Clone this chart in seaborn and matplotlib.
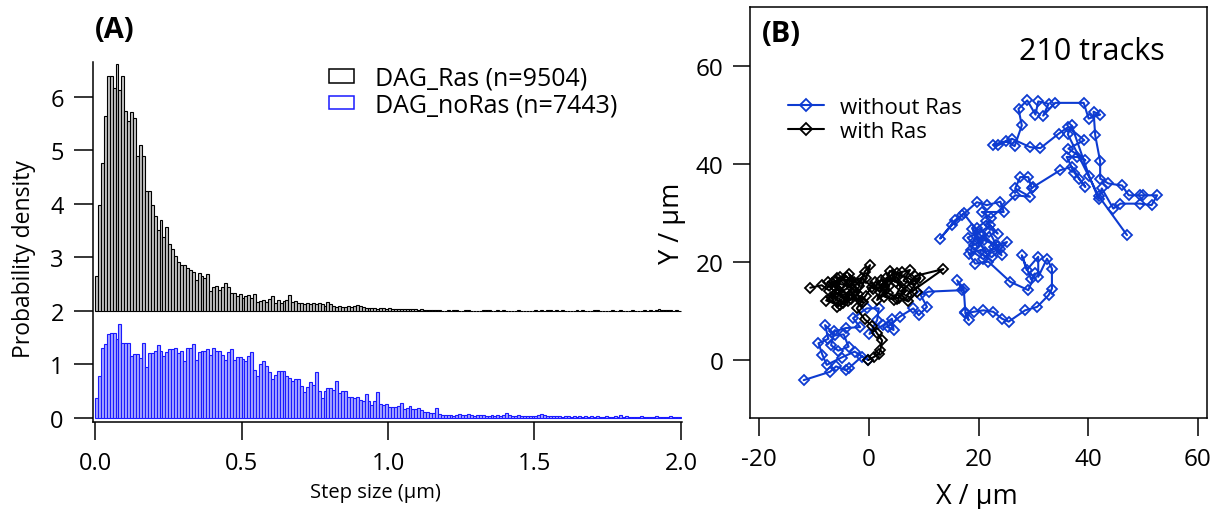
import numpy as np
import matplotlib
matplotlib.use("Agg")
import matplotlib.pyplot as plt
from matplotlib.patches import Patch
from matplotlib.lines import Line2D
import seaborn as sns

# ---------------- data ----------------
# Histogram bin densities (bin width 0.01 um, 0 .. 2.0 um)
ras_density = [
    0.65, 1.97, 2.76, 3.65, 4.39, 4.39, 4.16, 4.62, 4.12, 4.38,
    3.73, 3.55, 3.71, 3.60, 2.90, 3.10, 2.90, 2.24, 2.24, 1.98,
    1.78, 1.51, 1.69, 1.39, 1.57, 1.25, 1.15, 1.03, 0.92, 0.85,
    0.86, 0.80, 0.77, 0.72, 0.58, 0.70, 0.66, 0.61, 0.69, 0.38,
    0.44, 0.47, 0.39, 0.44, 0.52, 0.45, 0.33, 0.34, 0.28, 0.32,
    0.24, 0.27, 0.30, 0.25, 0.31, 0.16, 0.19, 0.21, 0.17, 0.23,
    0.28, 0.14, 0.20, 0.15, 0.18, 0.20, 0.29, 0.17, 0.18, 0.15,
    0.14, 0.13, 0.14, 0.12, 0.15, 0.13, 0.14, 0.12, 0.10, 0.16,
    0.13, 0.10, 0.08, 0.09, 0.08, 0.07, 0.09, 0.08, 0.10, 0.11,
    0.09, 0.07, 0.06, 0.05, 0.06, 0.05, 0.04, 0.06, 0.05, 0.04,
    0.05, 0.04, 0.04, 0.03, 0.04, 0.03, 0.03, 0.04, 0.03, 0.03,
    0.02, 0.03, 0.02, 0.02, 0.01, 0.02, 0.01, 0.01, 0.00, 0.00,
    0.02, 0.00, 0.02, 0.01, 0.00, 0.00, 0.02, 0.01, 0.00, 0.00,
    0.00, 0.00, 0.02, 0.01, 0.02, 0.00, 0.00, 0.02, 0.00, 0.02,
    0.00, 0.00, 0.00, 0.00, 0.02, 0.00, 0.00, 0.00, 0.00, 0.00,
    0.02, 0.00, 0.02, 0.00, 0.01, 0.02, 0.00, 0.02, 0.00, 0.02,
    0.00, 0.00, 0.00, 0.00, 0.02, 0.00, 0.02, 0.00, 0.00, 0.00,
    0.02, 0.02, 0.00, 0.00, 0.00, 0.00, 0.02, 0.00, 0.00, 0.02,
    0.00, 0.00, 0.00, 0.02, 0.00, 0.00, 0.00, 0.02, 0.00, 0.02,
    0.00, 0.02, 0.03, 0.02, 0.02, 0.02, 0.02, 0.00, 0.02, 0.00,
]
noras_density = [
    0.37, 0.79, 1.30, 1.38, 1.57, 1.58, 1.58, 1.48, 1.76, 1.40,
    1.40, 1.41, 1.15, 1.20, 1.20, 1.12, 1.40, 0.95, 1.21, 1.22,
    1.25, 1.36, 1.26, 1.15, 1.23, 1.28, 1.29, 1.31, 1.21, 1.26,
    1.06, 1.31, 1.31, 1.38, 1.09, 1.23, 1.26, 1.26, 1.28, 1.17,
    1.30, 1.26, 1.25, 1.18, 1.09, 1.23, 1.28, 1.08, 1.14, 1.14,
    1.10, 1.07, 1.15, 1.23, 0.90, 0.79, 1.01, 1.06, 0.97, 0.85,
    0.73, 0.81, 0.87, 0.88, 0.88, 0.79, 0.75, 0.70, 0.72, 0.73,
    0.60, 0.48, 0.58, 0.67, 0.62, 0.85, 0.50, 0.37, 0.50, 0.56,
    0.56, 0.53, 0.70, 0.47, 0.51, 0.50, 0.39, 0.40, 0.37, 0.39,
    0.34, 0.32, 0.44, 0.31, 0.25, 0.31, 0.48, 0.26, 0.25, 0.26,
    0.20, 0.20, 0.21, 0.23, 0.28, 0.17, 0.19, 0.22, 0.17, 0.16,
    0.18, 0.15, 0.11, 0.12, 0.10, 0.09, 0.19, 0.08, 0.06, 0.06,
    0.05, 0.06, 0.04, 0.05, 0.07, 0.06, 0.05, 0.08, 0.05, 0.04,
    0.05, 0.06, 0.05, 0.04, 0.04, 0.05, 0.04, 0.05, 0.04, 0.05,
    0.10, 0.05, 0.04, 0.03, 0.05, 0.04, 0.03, 0.04, 0.03, 0.04,
    0.03, 0.05, 0.08, 0.06, 0.03, 0.04, 0.03, 0.03, 0.04, 0.02,
    0.03, 0.03, 0.02, 0.03, 0.02, 0.03, 0.02, 0.03, 0.02, 0.03,
    0.02, 0.03, 0.02, 0.02, 0.03, 0.02, 0.01, 0.03, 0.02, 0.06,
    0.02, 0.03, 0.02, 0.01, 0.02, 0.02, 0.03, 0.01, 0.02, 0.02,
    0.01, 0.03, 0.02, 0.02, 0.01, 0.02, 0.03, 0.02, 0.01, 0.02,
]
ras_label = "DAG_Ras (n=9504)"
noras_label = "DAG_noRas (n=7443)"
hist_x_ticks = [0.0, 0.5, 1.0, 1.5, 2.0]
hist_y_ticks = [0, 1, 2, 3, 4, 5, 6]

# Trajectories (um)
blue_x = [
    -11.9, -7.1, -6.0, -4.2, -3.7, -1.3, -0.1, -2.6, -5.0, -7.7,
    -8.5, -9.2, -7.4, -8.0, -6.1, -4.6, -3.7, -5.6, -6.9, -6.3,
    -4.2, -1.6, -2.9, -0.4, 1.8, 1.5, 0.1, 2.6, 4.2, 4.5,
    3.4, 5.6, 8.1, 9.1, 10.6, 9.4, 10.9, 17.0, 16.1, 17.3,
    17.6, 18.2, 17.6, 19.1, 20.9, 22.7, 24.3, 25.5, 28.5, 30.7,
    32.8, 33.4, 33.4, 32.5, 30.9, 30.9, 28.8, 27.9, 29.6, 30.3,
    29.1, 25.8, 21.8, 19.4, 18.2, 20.5, 22.4, 24.0, 25.2, 23.2,
    21.0, 19.2, 18.0, 20.2, 22.1, 23.5, 21.4, 19.8, 18.6, 20.9,
    22.8, 24.2, 22.0, 19.9, 18.9, 21.2, 23.6, 20.4, 17.3, 15.7,
    13.0, 15.1, 17.0, 19.7, 21.5, 24.0, 24.6, 20.6, 22.3, 26.7,
    29.4, 26.7, 27.6, 29.1, 29.7, 30.0, 34.9, 37.0, 38.4, 39.5,
    37.5, 36.1, 38.0, 39.5, 36.4, 39.3, 36.4, 34.6, 31.3, 29.4,
    26.1, 23.6, 22.7, 25.0, 26.6, 27.9, 27.3, 28.9, 30.4, 30.9,
    32.8, 31.8, 34.0, 39.2, 40.1, 42.2, 41.0, 41.3, 42.2, 42.2,
    43.7, 46.2, 47.4, 49.5, 50.1, 52.6, 51.6, 49.5, 45.9, 44.6,
    42.5, 41.9, 40.2, 37.0, 36.3, 41.9, 47.1,
]
blue_y = [
    -4.0, -2.3, -1.2, -2.0, -1.6, 0.8, 0.1, 1.8, 0.6, -0.9,
    1.2, 3.5, 4.4, 7.2, 5.1, 5.3, 2.8, 2.0, 3.1, 5.9,
    6.6, 6.8, 8.6, 10.6, 10.6, 8.2, 5.4, 7.2, 8.5, 6.2,
    6.8, 8.9, 10.6, 9.2, 10.9, 13.4, 14.0, 14.3, 16.3, 14.6,
    9.9, 8.2, 9.6, 9.9, 10.2, 9.9, 8.5, 7.9, 10.2, 10.9,
    13.3, 14.6, 18.7, 20.7, 17.0, 21.1, 18.4, 21.4, 16.5, 17.7,
    14.3, 16.0, 20.1, 19.7, 21.7, 22.5, 21.0, 22.6, 24.1, 23.4,
    24.5, 23.5, 25.0, 26.0, 27.5, 25.8, 28.4, 27.0, 22.4, 20.6,
    23.0, 21.4, 26.2, 24.0, 26.8, 22.0, 23.2, 25.4, 29.9, 28.5,
    24.8, 27.5, 29.5, 32.2, 31.6, 32.3, 30.2, 30.2, 29.0, 33.6,
    33.3, 35.0, 37.3, 37.3, 35.0, 35.3, 38.7, 39.4, 37.0, 35.3,
    38.2, 41.4, 41.4, 40.7, 43.1, 44.8, 47.5, 46.1, 43.2, 43.4,
    45.1, 43.8, 43.9, 44.6, 43.6, 47.8, 51.2, 52.9, 50.0, 52.7,
    52.2, 49.8, 52.4, 52.4, 49.2, 50.0, 50.6, 45.8, 40.5, 37.0,
    36.0, 35.6, 33.6, 33.6, 33.6, 33.6, 31.6, 31.9, 31.9, 30.9,
    35.0, 32.9, 37.5, 47.8, 46.0, 33.5, 25.5,
]
black_x = [
    -10.7, -8.6, -7.2, -6.0, -5.2, -6.5, -4.8, -3.5, -5.8, -7.0,
    -4.2, -2.8, -3.6, -1.8, -0.8, 0.2, -0.5, -2.0, -3.8, -5.5,
    -6.8, -4.6, -2.5, -1.0, -6.2, -7.5, -5.0, -3.0, -4.5, -6.0,
    -7.8, -5.2, -3.2, -1.5, -2.6, -4.0, -5.8, -3.2, -1.2, 0.5,
    2.0, 3.2, 5.0, 6.8, 5.5, 7.2, 8.8, 7.6, 5.2, 3.8,
    2.8, 0.8, 2.2, 3.6, 2.8, 4.5, 5.8, 4.2, 6.0, 7.5,
    6.3, 8.2, 9.4, 7.0, 13.6, 8.5, 5.2, 3.4, 1.5, 2.6,
    4.8, 3.0, 1.2, -0.6, -2.2, -0.8, 0.6, 1.5, 2.4, 2.1,
    1.8, 0.9, -0.1,
]
black_y = [
    14.8, 15.3, 14.2, 16.2, 16.9, 12.8, 11.6, 13.4, 10.8, 13.0,
    14.5, 16.0, 17.5, 15.2, 18.0, 19.4, 16.8, 13.6, 12.0, 14.1,
    15.8, 16.5, 14.0, 11.8, 15.0, 16.0, 15.5, 14.8, 12.5, 13.8,
    12.2, 11.2, 12.6, 12.0, 15.2, 17.0, 16.8, 16.2, 16.8, 15.0,
    14.0, 16.8, 16.0, 14.2, 12.8, 12.0, 14.0, 16.5, 17.8, 18.2,
    15.0, 14.6, 16.4, 15.2, 13.0, 12.4, 15.0, 17.4, 18.0, 18.4,
    16.2, 15.4, 16.8, 13.4, 18.6, 17.2, 12.6, 13.8, 12.3, 15.6,
    17.0, 14.3, 16.0, 13.2, 10.6, 8.4, 7.0, 5.5, 4.1, 2.1,
    1.4, 0.7, 0.1,
]
blue_label = "without Ras"
black_label = "with Ras"
track_x_ticks = [-20, 0, 20, 40, 60]
track_y_ticks = [0, 20, 40, 60]
n_tracks_text = "210 tracks"

# ---------------- style ----------------
sns.set_theme(style="ticks", rc={
    "axes.edgecolor": "black", "xtick.color": "black", "ytick.color": "black",
    "text.color": "black", "axes.labelcolor": "black", "axes.linewidth": 1.1,
})
plt.rcParams['font.family'] = ['Open Sans', 'DejaVu Sans']
plt.rcParams['axes.unicode_minus'] = False

BLUE_H_EDGE = "#1a1aff"
BLUE_H_FACE = "#a9a9ff"
GREY_FACE = "#c4c4c4"
TRACK_BLUE = "#0d3bd1"
RAS_OFFSET = 2

W, H = 1215, 510
fig = plt.figure(figsize=(W / 100, H / 100), dpi=100)
axA = fig.add_axes([93 / W, (H - 423) / H, (682 - 93) / W, (423 - 63) / H])
axB = fig.add_axes([750 / W, (H - 419) / H, (1207 - 750) / W, (419 - 8) / H])

# ---------------- panel A ----------------
edges = np.linspace(0, 2.0, len(ras_density) + 1)
centers = (edges[:-1] + edges[1:]) / 2
edge_list = [float(e) for e in edges]
sns.histplot(x=centers, weights=noras_density, bins=edge_list, stat="count",
             element="bars", fill=True, facecolor=BLUE_H_FACE,
             edgecolor=BLUE_H_EDGE, linewidth=0.8, alpha=1, ax=axA)
n0 = len(axA.patches)
sns.histplot(x=centers, weights=ras_density, bins=edge_list, stat="count",
             element="bars", fill=True, facecolor=GREY_FACE,
             edgecolor="black", linewidth=0.8, alpha=1, ax=axA)
for p in axA.patches[n0:]:
    p.set_y(p.get_y() + RAS_OFFSET)

axA.set_xlim(-0.007, 2.0035)
axA.set_ylim(-0.075, 6.65)
axA.set_xticks(hist_x_ticks)
axA.set_xticklabels([f"{t:.1f}" for t in hist_x_ticks])
axA.set_yticks(hist_y_ticks)
axA.tick_params(axis="y", length=14, width=1.1, pad=7, labelsize=17)
axA.tick_params(axis="x", length=13, width=1.1, pad=8, labelsize=17)
sns.despine(ax=axA)
axA.set_xlabel("Step size (µm)", fontsize=14.5)
axA.set_ylabel("Probability density", fontsize=16.5)
axA.xaxis.set_label_coords(0.479, -0.168)
axA.yaxis.set_label_coords(-0.097, 0.455)

handlesA = [Patch(facecolor="white", edgecolor="black", linewidth=1.1),
            Patch(facecolor="white", edgecolor=BLUE_H_EDGE, linewidth=1.1)]
axA.legend(handlesA, [ras_label, noras_label], loc="upper left",
           bbox_to_anchor=(329 / W, 1 - 67 / H), bbox_transform=fig.transFigure,
           frameon=False, fontsize=18, borderpad=0, borderaxespad=0,
           handlelength=1.0, handleheight=0.45, handletextpad=0.85, labelspacing=0.05)

# ---------------- panel B ----------------
sns.lineplot(x=blue_x, y=blue_y, sort=False, estimator=None, color=TRACK_BLUE,
             marker="D", markersize=5, markerfacecolor="none",
             markeredgecolor=TRACK_BLUE, markeredgewidth=1.3, linewidth=1.5, ax=axB)
sns.lineplot(x=black_x, y=black_y, sort=False, estimator=None, color="black",
             marker="D", markersize=5, markerfacecolor="none",
             markeredgecolor="black", markeredgewidth=1.3, linewidth=1.5, ax=axB)
axB.set_xlim(-21.7, 61.7)
axB.set_ylim(-11.7, 71.9)
axB.set_xticks(track_x_ticks)
axB.set_yticks(track_y_ticks)
axB.tick_params(axis="y", length=12, width=1.1, pad=7, labelsize=17.5)
axB.tick_params(axis="x", length=13, width=1.1, pad=8, labelsize=17.5)
axB.set_xlabel("X / µm", fontsize=19.5)
axB.set_ylabel("Y / µm", fontsize=19.5)
axB.xaxis.set_label_coords(0.496, -0.155)
axB.yaxis.set_label_coords(-0.140, 0.477)
axB.text(0.748, 0.893, n_tracks_text, transform=axB.transAxes, fontsize=22,
         ha="center", va="center")

handlesB = [Line2D([], [], color=TRACK_BLUE, marker="D", markersize=6,
                   markerfacecolor="none", markeredgewidth=1.3, linewidth=1.5),
            Line2D([], [], color="black", marker="D", markersize=6,
                   markerfacecolor="none", markeredgewidth=1.3, linewidth=1.5)]
axB.legend(handlesB, [blue_label, black_label], loc="upper left",
           bbox_to_anchor=(788 / W, 1 - 98 / H), bbox_transform=fig.transFigure,
           frameon=False, fontsize=16, borderpad=0, borderaxespad=0,
           handlelength=1.6, handletextpad=0.75, labelspacing=0.12)

fig.text(115 / W, 1 - 31 / H, "(A)", fontsize=21, fontweight="bold",
         ha="center", va="center")
fig.text(781 / W, 1 - 34 / H, "(B)", fontsize=21, fontweight="bold",
         ha="center", va="center")

fig.savefig("out.png", dpi=100)
